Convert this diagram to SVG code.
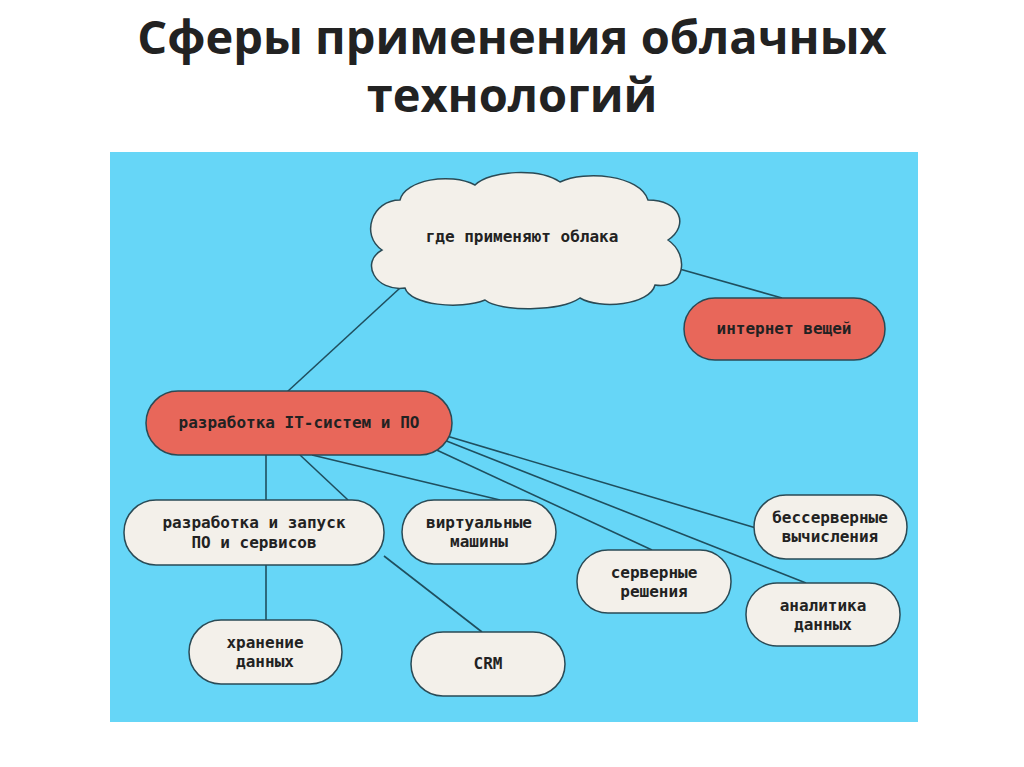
<svg xmlns="http://www.w3.org/2000/svg" width="1024" height="767" viewBox="0 0 1024 767">
<style>
.t{font-family:"Open Sans","Liberation Sans",Arial,sans-serif;font-weight:bold;font-size:47px;fill:#222;text-anchor:middle}
.n{stroke:#2a4a55;stroke-width:1.5}
.w{fill:#f3f0ea}
.r{fill:#e8675a}
.l{font-family:"DejaVu Sans Mono","Liberation Mono",monospace;font-weight:bold;font-size:16px;fill:#222;text-anchor:middle}
.c line{stroke:#1f4f5f;stroke-width:1.6}
</style>
<rect width="1024" height="767" fill="#fff"/>
<text class="t" x="512" y="54">Сферы применения облачных</text>
<text class="t" x="512" y="112">технологий</text>
<rect x="110" y="152" width="808" height="570" fill="#66d6f7"/>
<g class="c">
<line x1="400" y1="288" x2="287" y2="392"/>
<line x1="676" y1="268" x2="782" y2="298"/>
<line x1="266" y1="455" x2="266" y2="500"/>
<line x1="266" y1="565" x2="266" y2="620"/>
<line x1="300" y1="455" x2="348" y2="500"/>
<line x1="384" y1="556" x2="482" y2="632"/>
<line x1="312" y1="455" x2="500" y2="500"/>
<line x1="428" y1="446" x2="652" y2="550"/>
<line x1="440" y1="434" x2="756" y2="528"/>
<line x1="444" y1="440" x2="806" y2="583"/>
</g>
<g id="cloud"><path class="n w" d="M400,200 C405,180 450,172 475,185 C490,170 540,168 560,182 C585,170 640,175 648,200 C680,200 690,225 668,240 C690,255 685,290 655,285 C650,305 600,310 580,298 C560,312 500,312 485,300 C460,310 410,305 405,288 C375,292 360,262 382,250 C360,235 372,200 400,200 Z"/>
<text class="l" x="522" y="242">где применяют облака</text></g>
<g id="iot"><rect class="n r" x="684" y="298" width="201" height="62" rx="31"/><text class="l" x="784" y="334">интернет вещей</text></g>
<g id="it"><rect class="n r" x="146" y="391" width="306" height="64" rx="32"/><text class="l" x="299" y="428">разработка IT-систем и ПО</text></g>
<g id="dev"><rect class="n w" x="124" y="500" width="260" height="65" rx="32"/><text class="l" x="254" y="528">разработка и запуск</text><text class="l" x="254" y="548">ПО и сервисов</text></g>
<g id="vm"><rect class="n w" x="402" y="500" width="154" height="64" rx="32"/><text class="l" x="479" y="528">виртуальные</text><text class="l" x="479" y="547">машины</text></g>
<g id="srv"><rect class="n w" x="577" y="550" width="154" height="63" rx="31"/><text class="l" x="654" y="578">серверные</text><text class="l" x="654" y="597">решения</text></g>
<g id="sls"><rect class="n w" x="754" y="495" width="153" height="64" rx="32"/><text class="l" x="830" y="523">бессерверные</text><text class="l" x="830" y="542">вычисления</text></g>
<g id="ana"><rect class="n w" x="746" y="583" width="154" height="63" rx="31"/><text class="l" x="823" y="611">аналитика</text><text class="l" x="823" y="630">данных</text></g>
<g id="sto"><rect class="n w" x="189" y="620" width="153" height="64" rx="32"/><text class="l" x="265" y="648">хранение</text><text class="l" x="265" y="667">данных</text></g>
<g id="crm"><rect class="n w" x="411" y="632" width="154" height="64" rx="32"/><text class="l" x="488" y="669">CRM</text></g>
</svg>
